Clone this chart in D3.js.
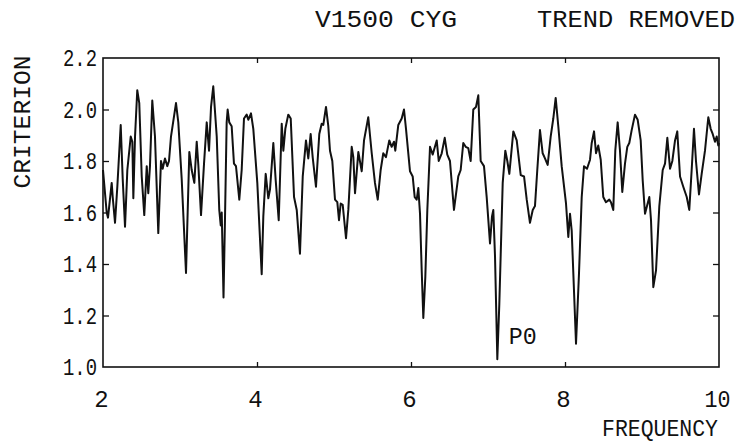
<!DOCTYPE html>
<html>
<head>
<meta charset="utf-8">
<script src="https://cdn.jsdelivr.net/npm/d3@7"></script>
<style>
  html, body { margin: 0; padding: 0; background: #fff; }
  svg text { font-family: "Liberation Mono", "DejaVu Sans Mono", monospace; font-variant-numeric: slashed-zero; fill: #111; }
</style>
</head>
<body>
<svg id="chart" width="739" height="445"></svg>
<script>
// ---- data ----
const freq = [
  2.000, 2.048, 2.065, 2.113, 2.126, 2.156, 2.186, 2.230, 2.256, 2.286,
  2.316, 2.360, 2.381, 2.394, 2.416, 2.445, 2.471, 2.503, 2.536, 2.568,
  2.588, 2.610, 2.640, 2.675, 2.718, 2.753, 2.775, 2.805, 2.835, 2.857,
  2.883, 2.948, 2.978, 3.022, 3.078, 3.121, 3.152, 3.186, 3.217, 3.238,
  3.273, 3.312, 3.347, 3.377, 3.403, 3.432, 3.477, 3.510, 3.529, 3.542,
  3.565, 3.584, 3.606, 3.619, 3.640, 3.671, 3.701, 3.727, 3.770, 3.801,
  3.831, 3.866, 3.887, 3.922, 3.952, 4.004, 4.061, 4.082, 4.113, 4.147,
  4.169, 4.212, 4.243, 4.282, 4.321, 4.342, 4.368, 4.406, 4.438, 4.481,
  4.516, 4.558, 4.594, 4.636, 4.666, 4.697, 4.723, 4.766, 4.809, 4.840,
  4.861, 4.896, 4.926, 4.948, 4.978, 5.013, 5.043, 5.065, 5.087, 5.113,
  5.156, 5.186, 5.230, 5.251, 5.273, 5.316, 5.360, 5.390, 5.445, 5.490,
  5.532, 5.568, 5.606, 5.640, 5.675, 5.718, 5.749, 5.779, 5.796, 5.835,
  5.879, 5.909, 5.935, 5.987, 6.022, 6.048, 6.074, 6.095, 6.117, 6.139,
  6.160, 6.186, 6.212, 6.247, 6.282, 6.334, 6.360, 6.399, 6.438, 6.471,
  6.506, 6.558, 6.614, 6.645, 6.679, 6.710, 6.744, 6.775, 6.809, 6.844,
  6.874, 6.905, 6.948, 6.983, 7.026, 7.052, 7.069, 7.091, 7.121, 7.147,
  7.191, 7.225, 7.251, 7.277, 7.329, 7.373, 7.425, 7.468, 7.503, 7.545,
  7.581, 7.610, 7.640, 7.675, 7.710, 7.740, 7.775, 7.814, 7.848, 7.879,
  7.913, 7.957, 8.013, 8.043, 8.065, 8.087, 8.143, 8.182, 8.217, 8.247,
  8.286, 8.325, 8.347, 8.377, 8.403, 8.432, 8.464, 8.497, 8.532, 8.575,
  8.597, 8.627, 8.653, 8.684, 8.714, 8.744, 8.779, 8.809, 8.835, 8.866,
  8.909, 8.944, 8.983, 9.009, 9.039, 9.069, 9.095, 9.117, 9.147, 9.182,
  9.225, 9.269, 9.299, 9.329, 9.364, 9.394, 9.429, 9.458, 9.494, 9.536,
  9.581, 9.614, 9.645, 9.675, 9.701, 9.740, 9.775, 9.818, 9.861, 9.892,
  9.918, 9.948, 9.970, 9.991, 10.000
];
const crit = [
  1.765, 1.600, 1.580, 1.715, 1.660, 1.560, 1.700, 1.940, 1.730, 1.545,
  1.765, 1.895, 1.875, 1.655, 1.895, 2.075, 2.025, 1.740, 1.590, 1.780,
  1.675, 1.780, 2.035, 1.895, 1.520, 1.800, 1.770, 1.810, 1.780, 1.800,
  1.895, 2.025, 1.950, 1.730, 1.365, 1.835, 1.765, 1.715, 1.875, 1.785,
  1.590, 1.790, 1.950, 1.840, 2.010, 2.090, 1.895, 1.610, 1.550, 1.600,
  1.270, 1.570, 1.950, 2.000, 1.950, 1.935, 1.790, 1.780, 1.650, 1.765,
  1.965, 1.980, 1.960, 1.985, 1.925, 1.715, 1.360, 1.585, 1.750, 1.655,
  1.690, 1.870, 1.725, 1.570, 1.945, 1.840, 1.925, 1.980, 1.965, 1.660,
  1.610, 1.440, 1.740, 1.880, 1.810, 1.905, 1.815, 1.700, 1.905, 1.945,
  1.940, 2.010, 1.935, 1.840, 1.800, 1.650, 1.640, 1.570, 1.635, 1.630,
  1.500, 1.610, 1.855, 1.815, 1.675, 1.835, 1.760, 1.880, 1.970, 1.830,
  1.715, 1.650, 1.765, 1.830, 1.815, 1.880, 1.855, 1.875, 1.840, 1.940,
  1.965, 2.000, 1.925, 1.760, 1.740, 1.660, 1.650, 1.695, 1.595, 1.375,
  1.190, 1.350, 1.610, 1.855, 1.825, 1.880, 1.800, 1.830, 1.890, 1.825,
  1.800, 1.610, 1.740, 1.765, 1.870, 1.855, 1.850, 1.800, 2.000, 2.010,
  2.055, 1.800, 1.780, 1.660, 1.480, 1.585, 1.610, 1.430, 1.030, 1.245,
  1.715, 1.840, 1.800, 1.750, 1.915, 1.880, 1.745, 1.740, 1.650, 1.560,
  1.610, 1.625, 1.765, 1.920, 1.830, 1.810, 1.785, 1.895, 1.965, 2.045,
  1.935, 1.780, 1.635, 1.505, 1.595, 1.530, 1.090, 1.365, 1.660, 1.780,
  1.770, 1.805, 1.870, 1.915, 1.830, 1.860, 1.805, 1.660, 1.640, 1.650,
  1.640, 1.610, 1.840, 1.950, 1.840, 1.680, 1.790, 1.855, 1.870, 1.920,
  1.980, 1.960, 1.880, 1.725, 1.595, 1.630, 1.660, 1.570, 1.310, 1.375,
  1.625, 1.765, 1.790, 1.890, 1.770, 1.800, 1.880, 1.915, 1.740, 1.700,
  1.660, 1.610, 1.765, 1.925, 1.800, 1.670, 1.750, 1.840, 1.970, 1.925,
  1.905, 1.875, 1.895, 1.860, 1.870
];
const xTicks = [2, 4, 6, 8, 10];
const xTickLabels = ["2", "4", "6", "8", "10"];
const yTicks = [1.0, 1.2, 1.4, 1.6, 1.8, 2.0, 2.2];
const yTickLabels = ["1.0", "1.2", "1.4", "1.6", "1.8", "2.0", "2.2"];
const titleLeft = "V1500 CYG";
const titleRight = "TREND REMOVED";
const xTitle = "FREQUENCY";
const yTitle = "CRITERION";
const peakLabel = "P0";
const peakAt = [7.27, 1.09];

// ---- chart ----
const svg = d3.select("#chart");
const L = 103, R = 719, T = 58, B = 367;
const x = d3.scaleLinear().domain([2, 10]).range([L, R]);
const y = d3.scaleLinear().domain([1.0, 2.2]).range([B, T]);
const fs = 24;

// inner ticks
const inner = svg.append("g");
inner.append("g").attr("transform", `translate(0,${B})`)
  .call(d3.axisBottom(x).tickValues(xTicks.slice(1, -1)).tickSize(-5).tickFormat(""));
inner.append("g").attr("transform", `translate(0,${T})`)
  .call(d3.axisTop(x).tickValues(xTicks.slice(1, -1)).tickSize(-5).tickFormat(""));
inner.append("g").attr("transform", `translate(${L},0)`)
  .call(d3.axisLeft(y).tickValues(yTicks.slice(1, -1)).tickSize(-6).tickFormat(""));
inner.append("g").attr("transform", `translate(${R},0)`)
  .call(d3.axisRight(y).tickValues(yTicks.slice(1, -1)).tickSize(-6).tickFormat(""));
inner.selectAll(".domain").remove();
inner.selectAll(".tick line").attr("stroke", "#111").attr("stroke-width", 1.3);

// labelled axes (labels only)
const xa = svg.append("g").attr("transform", `translate(0,${B})`)
  .call(d3.axisBottom(x).tickValues(xTicks).tickSize(0).tickPadding(23)
    .tickFormat((d, i) => xTickLabels[i]));
xa.select(".domain").remove();
xa.selectAll("text").attr("font-size", fs).attr("dx", -2);
xa.selectAll("text").filter((d, i) => xTickLabels[i].length > 1)
  .attr("textLength", 26).attr("lengthAdjust", "spacingAndGlyphs");

const ya = svg.append("g").attr("transform", `translate(${L},0)`)
  .call(d3.axisLeft(y).tickValues(yTicks).tickSize(0).tickPadding(6)
    .tickFormat((d, i) => yTickLabels[i]));
ya.select(".domain").remove();
ya.selectAll("text").attr("font-size", fs).attr("textLength", 34).attr("lengthAdjust", "spacingAndGlyphs");

// frame
svg.append("rect").attr("x", L).attr("y", T).attr("width", R - L).attr("height", B - T)
  .attr("fill", "none").attr("stroke", "#111").attr("stroke-width", 1.6);

// line
const line = d3.line().x((d, i) => x(freq[i])).y((d, i) => y(crit[i]));
svg.append("path").datum(crit).attr("d", line)
  .attr("fill", "none").attr("stroke", "#111").attr("stroke-width", 2)
  .attr("stroke-linejoin", "round");

// titles
svg.append("text").attr("x", 315).attr("y", 27).attr("font-size", fs)
  .attr("textLength", 142).attr("lengthAdjust", "spacingAndGlyphs").text(titleLeft);
svg.append("text").attr("x", 537).attr("y", 27).attr("font-size", fs)
  .attr("textLength", 198).attr("lengthAdjust", "spacingAndGlyphs").text(titleRight);
svg.append("text").attr("x", 602).attr("y", 436).attr("font-size", fs)
  .attr("textLength", 116).attr("lengthAdjust", "spacingAndGlyphs").text(xTitle);
svg.append("text").attr("transform", "translate(30,122) rotate(-90)")
  .attr("text-anchor", "middle").attr("font-size", fs)
  .attr("textLength", 133).attr("lengthAdjust", "spacingAndGlyphs").text(yTitle);
svg.append("text").attr("x", x(peakAt[0])).attr("y", y(peakAt[1])).attr("font-size", fs)
  .attr("textLength", 28).attr("lengthAdjust", "spacingAndGlyphs").text(peakLabel);
</script>
</body>
</html>
